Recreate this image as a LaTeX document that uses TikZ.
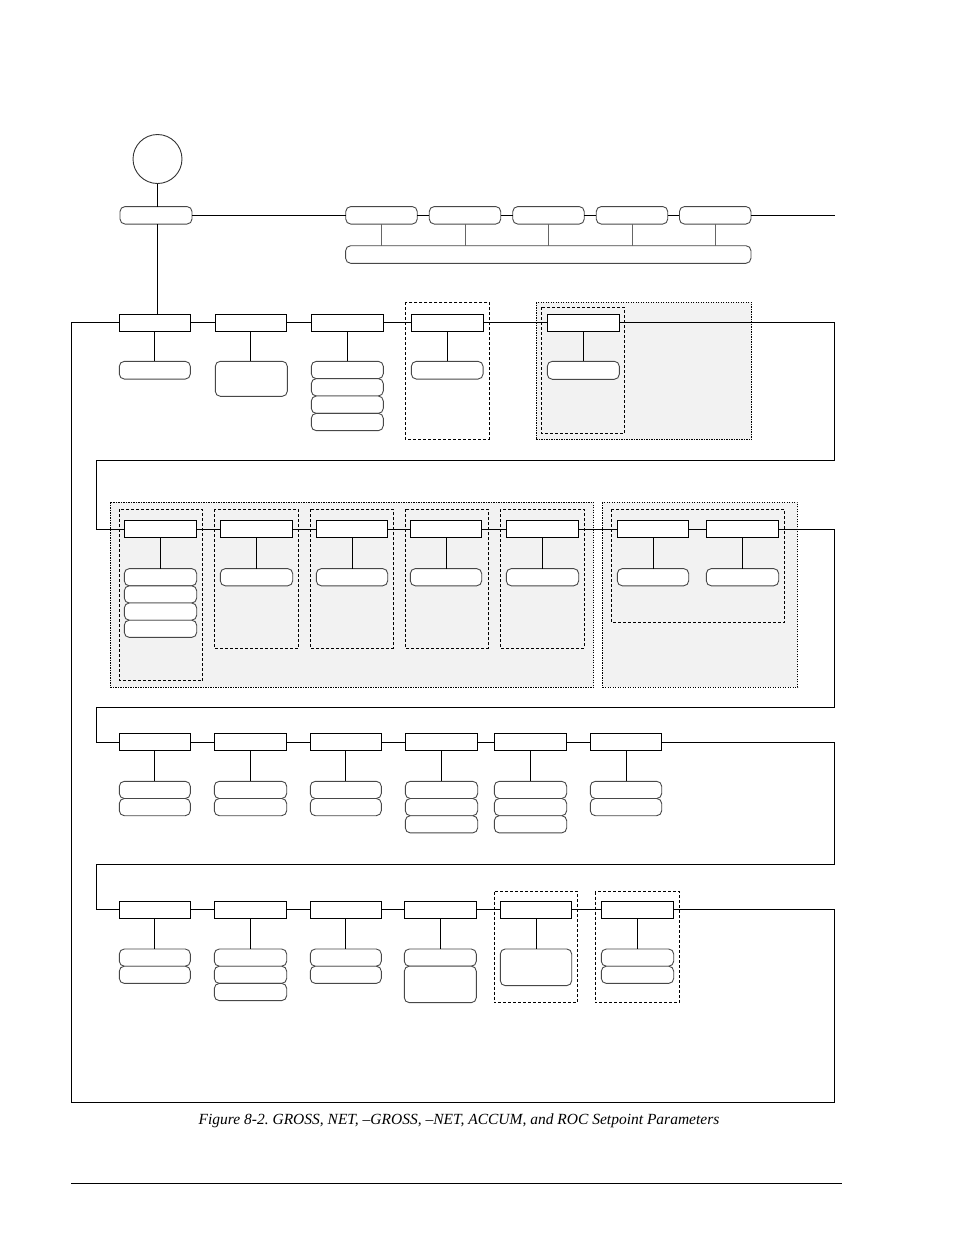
\documentclass[tikz,border=0pt]{standalone}
\usepackage{fontspec}
\setmainfont{Liberation Serif}
\newcommand\sqn[4]{\node[sq,minimum width=#4] (#1) at (#2,#3) {};}
\newcommand\rbn[5]{\node[rb,minimum width=#4,minimum height=#5] (#1) at (#2,#3) {};}
\frenchspacing
\begin{document}
\begin{tikzpicture}[x=1pt,y=-1pt,
 sq/.style={draw=black, line width=1.1pt, fill=white, rectangle, inner sep=0pt, outer sep=0pt, minimum height=17pt},
 rb/.style={draw=black!72, line width=0.9pt, fill=white, rounded corners=5pt, rectangle, inner sep=0pt, outer sep=0pt},
 ln/.style={line width=1pt, black},
 gln/.style={line width=0.9pt, black!60},
 dbox/.style={dash pattern=on 3pt off 2pt, line width=0.9pt},
 greg/.style={dash pattern=on 1.2pt off 1.3pt, line width=0.9pt, fill=black!5},
]
\useasboundingbox (0,0) rectangle (954,1235);

% ---------- regions ----------
\draw[dbox] (405.3,302.3) rectangle (489.3,439.3);
\draw[greg] (536.3,302.3) rectangle (751.7,439.7);
\draw[dbox] (541.3,307.3) rectangle (624.3,433.7);

\draw[greg] (110.3,502.3) rectangle (593.7,687.3);
\draw[dbox] (119.3,509.3) rectangle (202.7,680.7);
\draw[dbox] (214.3,509.3) rectangle (298.7,648.3);
\draw[dbox] (310.3,509.3) rectangle (393.3,648.3);
\draw[dbox] (405.3,509.3) rectangle (488.3,648.3);
\draw[dbox] (500.3,509.3) rectangle (584.3,648.3);
\draw[greg] (602.7,502.3) rectangle (797.7,687.3);
\draw[dbox] (611.3,509.3) rectangle (784.7,622.3);

\draw[dbox] (494,891.7) rectangle (577.7,1002.3);
\draw[dbox] (595,891.7) rectangle (679.7,1002.3);

% ---------- top ----------
\node[circle,draw=black!80,line width=0.9pt,minimum size=49pt,inner sep=0pt] (circ) at (157.5,159) {};
\rbn{top}{156}{215.3}{72}{17.5}
\rbn{t1}{381.5}{215.3}{71.5}{17.5}
\rbn{t2}{465}{215.3}{71.5}{17.5}
\rbn{t3}{548.5}{215.3}{71.5}{17.5}
\rbn{t4}{632}{215.3}{71.5}{17.5}
\rbn{t5}{715.2}{215.3}{71.5}{17.5}
\rbn{tw}{548.3}{254.5}{405.3}{17.6}

% ---------- row 1 ----------
\sqn{a1}{154.8}{322.8}{71}
\sqn{a2}{250.8}{322.8}{71}
\sqn{a3}{347.5}{322.8}{72.4}
\sqn{a4}{447.3}{322.8}{72}
\sqn{a5}{583.3}{322.8}{72}
\rbn{a1c}{154.8}{370.2}{71}{17.7}
\rbn{a2c}{251.3}{378.8}{72}{35}
\rbn{a3c1}{347.3}{370}{72}{17.35}
\rbn{a3c2}{347.3}{387.3}{72}{17.35}
\rbn{a3c3}{347.3}{404.7}{72}{17.35}
\rbn{a3c4}{347.3}{422}{72}{17.35}
\rbn{a4c}{447.2}{370.2}{71.7}{17.7}
\rbn{a5c}{583.3}{370.3}{72}{18}

% ---------- row 2 ----------
\sqn{b1}{160.5}{529}{72.4}
\sqn{b2}{256.5}{529}{72.4}
\sqn{b3}{352}{529}{71.4}
\sqn{b4}{446}{529}{71.4}
\sqn{b5}{542.5}{529}{72.4}
\sqn{b6}{653}{529}{71.4}
\sqn{b7}{742.5}{529}{72.4}
\rbn{b1c1}{160.5}{577.2}{72.4}{17.2}
\rbn{b1c2}{160.5}{594.4}{72.4}{17.2}
\rbn{b1c3}{160.5}{611.6}{72.4}{17.2}
\rbn{b1c4}{160.5}{628.8}{72.4}{17.2}
\rbn{b2c}{256.5}{577.2}{72.4}{17.2}
\rbn{b3c}{352}{577.2}{71.4}{17.2}
\rbn{b4c}{446}{577.2}{71.4}{17.2}
\rbn{b5c}{542.5}{577.2}{72.4}{17.2}
\rbn{b6c}{653}{577.2}{71.4}{17.2}
\rbn{b7c}{742.5}{577.2}{72.4}{17.2}

% ---------- row 3 ----------
\sqn{c1}{154.8}{742}{71}
\sqn{c2}{250.5}{742}{72.4}
\sqn{c3}{345.8}{742}{71}
\sqn{c4}{441.5}{742}{72.4}
\sqn{c5}{530.5}{742}{72.4}
\sqn{c6}{626}{742}{71.4}
\rbn{c1c1}{154.8}{789.9}{71}{17.2}
\rbn{c1c2}{154.8}{807.1}{71}{17.2}
\rbn{c2c1}{250.5}{789.9}{72.4}{17.2}
\rbn{c2c2}{250.5}{807.1}{72.4}{17.2}
\rbn{c3c1}{345.8}{789.9}{71}{17.2}
\rbn{c3c2}{345.8}{807.1}{71}{17.2}
\rbn{c4c1}{441.5}{789.9}{72.4}{17.2}
\rbn{c4c2}{441.5}{807.1}{72.4}{17.2}
\rbn{c4c3}{441.5}{824.3}{72.4}{17.2}
\rbn{c5c1}{530.5}{789.9}{72.4}{17.2}
\rbn{c5c2}{530.5}{807.1}{72.4}{17.2}
\rbn{c5c3}{530.5}{824.3}{72.4}{17.2}
\rbn{c6c1}{626}{789.9}{71.4}{17.2}
\rbn{c6c2}{626}{807.1}{71.4}{17.2}

% ---------- row 4 ----------
\sqn{e1}{154.8}{909.8}{71}
\sqn{e2}{250.5}{909.8}{72.4}
\sqn{e3}{345.8}{909.8}{71}
\sqn{e4}{440.3}{909.8}{72}
\sqn{e5}{536}{909.8}{71.4}
\sqn{e6}{637.5}{909.8}{72.4}
\rbn{e1c1}{154.8}{957.6}{71}{17.2}
\rbn{e1c2}{154.8}{974.8}{71}{17.2}
\rbn{e2c1}{250.5}{957.6}{72.4}{17.2}
\rbn{e2c2}{250.5}{974.8}{72.4}{17.2}
\rbn{e2c3}{250.5}{992}{72.4}{17.2}
\rbn{e3c1}{345.8}{957.6}{71}{17.2}
\rbn{e3c2}{345.8}{974.8}{71}{17.2}
\rbn{e4c1}{440.3}{957.6}{72}{17.2}
\rbn{e4c2}{440.3}{984.4}{72}{36.5}
\rbn{e5c}{536}{967.3}{71.4}{36.7}
\rbn{e6c1}{637.5}{957.6}{72.4}{17.2}
\rbn{e6c2}{637.5}{974.8}{72.4}{17.2}

% ---------- connectors ----------
\draw[ln] (circ.south) -- (circ.south |- top.north);
\draw[ln] (circ.south |- top.south) -- (circ.south |- a1.north);
\draw[ln] (top.east) -- (t1.west);
\draw[ln] (t1.east) -- (t2.west);
\draw[ln] (t2.east) -- (t3.west);
\draw[ln] (t3.east) -- (t4.west);
\draw[ln] (t4.east) -- (t5.west);
\coordinate (tend) at (835,215.3);
\draw[ln] (t5.east) -- (tend);
\foreach \i in {1,...,5} \draw[gln] (t\i.south) -- (t\i.south |- tw.north);

\draw[ln] (a1.east) -- (a2.west);
\draw[ln] (a2.east) -- (a3.west);
\draw[ln] (a3.east) -- (a4.west);
\draw[ln] (a4.east) -- (a5.west);
\draw[ln] (a1.south) -- (a1c.north);
\draw[ln] (a2.south) -- (a2.south |- a2c.north);
\draw[ln] (a3.south) -- (a3.south |- a3c1.north);
\draw[ln] (a4.south) -- (a4.south |- a4c.north);
\draw[ln] (a5.south) -- (a5c.north);

\draw[ln] (b1.east) -- (b2.west);
\draw[ln] (b2.east) -- (b3.west);
\draw[ln] (b3.east) -- (b4.west);
\draw[ln] (b4.east) -- (b5.west);
\draw[ln] (b5.east) -- (b6.west);
\draw[ln] (b6.east) -- (b7.west);
\draw[ln] (b1.south) -- (b1c1.north);
\draw[ln] (b2.south) -- (b2c.north);
\draw[ln] (b3.south) -- (b3c.north);
\draw[ln] (b4.south) -- (b4c.north);
\draw[ln] (b5.south) -- (b5c.north);
\draw[ln] (b6.south) -- (b6c.north);
\draw[ln] (b7.south) -- (b7c.north);

\draw[ln] (c1.east) -- (c2.west);
\draw[ln] (c2.east) -- (c3.west);
\draw[ln] (c3.east) -- (c4.west);
\draw[ln] (c4.east) -- (c5.west);
\draw[ln] (c5.east) -- (c6.west);
\draw[ln] (c1.south) -- (c1c1.north);
\draw[ln] (c2.south) -- (c2c1.north);
\draw[ln] (c3.south) -- (c3c1.north);
\draw[ln] (c4.south) -- (c4c1.north);
\draw[ln] (c5.south) -- (c5c1.north);
\draw[ln] (c6.south) -- (c6c1.north);

\draw[ln] (e1.east) -- (e2.west);
\draw[ln] (e2.east) -- (e3.west);
\draw[ln] (e3.east) -- (e4.west);
\draw[ln] (e4.east) -- (e5.west);
\draw[ln] (e5.east) -- (e6.west);
\draw[ln] (e1.south) -- (e1c1.north);
\draw[ln] (e2.south) -- (e2c1.north);
\draw[ln] (e3.south) -- (e3c1.north);
\draw[ln] (e4.south) -- (e4c1.north);
\draw[ln] (e5.south) -- (e5c.north);
\draw[ln] (e6.south) -- (e6c1.north);

% ---------- loops between rows ----------
\coordinate (p1) at (834,460.3); \coordinate (q1) at (96,460.3);
\draw[ln] (a5.east) -| (p1) -- (q1) |- (b1.west);
\coordinate (p2) at (834,707.3); \coordinate (q2) at (96,707.3);
\draw[ln] (b7.east) -| (p2) -- (q2) |- (c1.west);
\coordinate (p3) at (834,864.3); \coordinate (q3) at (96,864.3);
\draw[ln] (c6.east) -| (p3) -- (q3) |- (e1.west);
\coordinate (p4) at (834,1102.3); \coordinate (q4) at (71,1102.3);
\draw[ln] (e6.east) -| (p4) -- (q4) |- (a1.west);

% ---------- caption ----------
\node[font=\itshape\fontsize{15.5}{18}\selectfont, inner sep=0pt] (cap) at (459,1120.5) {Figure 8-2. GROSS, NET, –GROSS, –NET, ACCUM, and ROC Setpoint Parameters};
\coordinate (rl) at (71,1183.5); \coordinate (rr) at (842,1183.5);
\draw[line width=1pt] (rl) -- (rr);
\end{tikzpicture}
\end{document}
